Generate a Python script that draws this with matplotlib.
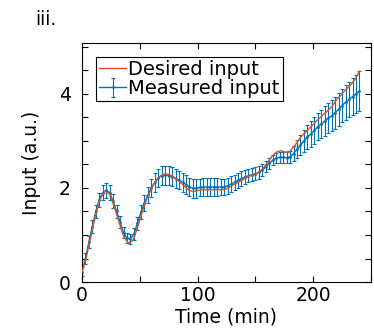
import numpy as np
import matplotlib
matplotlib.use("Agg")
import matplotlib.pyplot as plt
from matplotlib.ticker import MultipleLocator

# measured samples every 3 min, desired trajectory every 4 min
time_meas = np.arange(0, 241, 3)
time_des = np.arange(0, 241, 4)

measured = [0.22, 0.50, 0.85, 1.18, 1.50, 1.75, 1.90, 1.95, 1.90, 1.72,
            1.50, 1.27, 1.05, 0.93, 0.92, 1.02, 1.25, 1.48, 1.68, 1.85,
            2.00, 2.12, 2.21, 2.26, 2.27, 2.26, 2.24, 2.20, 2.17, 2.12,
            2.07, 2.02, 1.99, 1.99, 2.01, 2.02, 2.02, 2.02, 2.02, 2.02,
            2.02, 2.02, 2.05, 2.08, 2.12, 2.16, 2.20, 2.23, 2.26, 2.28,
            2.30, 2.33, 2.38, 2.45, 2.52, 2.59, 2.63, 2.65, 2.65, 2.64,
            2.66, 2.73, 2.82, 2.91, 3.00, 3.08, 3.15, 3.22, 3.30, 3.36,
            3.42, 3.48, 3.53, 3.60, 3.67, 3.75, 3.82, 3.88, 3.94, 4.00,
            4.06]

measured_err = [0.10, 0.11, 0.12, 0.13, 0.14, 0.15, 0.16, 0.16, 0.16,
                0.15, 0.14, 0.13, 0.12, 0.11, 0.11, 0.12,
                0.14, 0.15, 0.17, 0.18, 0.19, 0.20, 0.20, 0.20, 0.20,
                0.20, 0.20, 0.20, 0.20, 0.20, 0.20, 0.20, 0.20, 0.20,
                0.19, 0.19, 0.19, 0.19, 0.19, 0.19, 0.18, 0.18, 0.17,
                0.17, 0.16, 0.16, 0.15, 0.15, 0.14, 0.14, 0.14, 0.13,
                0.13, 0.12, 0.12, 0.11, 0.11, 0.11, 0.12, 0.12, 0.13,
                0.16, 0.19, 0.22, 0.24, 0.26, 0.27, 0.28, 0.29, 0.30,
                0.31, 0.32, 0.33, 0.34, 0.35, 0.36, 0.37, 0.38, 0.39, 0.40,
                0.42]

desired = [0.20, 0.55, 1.00, 1.45, 1.78, 1.93, 1.87, 1.60, 1.28, 0.97,
           0.83, 0.88, 1.15, 1.48, 1.76, 1.98, 2.15, 2.26, 2.30, 2.28,
           2.22, 2.14, 2.05, 1.96, 1.92, 1.94, 1.96, 1.96, 1.96, 1.96,
           1.96, 1.97, 2.02, 2.08, 2.13, 2.19, 2.24, 2.28, 2.32, 2.40,
           2.52, 2.66, 2.76, 2.79, 2.76, 2.78, 2.90, 3.04, 3.15, 3.25,
           3.35, 3.45, 3.54, 3.63, 3.72, 3.87, 3.97, 4.08, 4.18, 4.30,
           4.48]

plt.rcParams['font.family'] = ['DejaVu Sans']

fig = plt.figure(figsize=(3.74, 3.33), dpi=100)
ax = fig.add_axes([0.219, 0.153, 0.773, 0.718])

ax.plot(time_des, desired, color='#D95319', linewidth=1.0, label='Desired input', zorder=3)
ax.errorbar(time_meas, measured, yerr=measured_err, color='#0072BD', linewidth=1.0,
            elinewidth=0.8, capsize=1.2, capthick=0.8, marker='.', markersize=2,
            label='Measured input', zorder=2)

ax.set_xlim(0, 250)
ax.set_ylim(0, 5.08)
ax.xaxis.set_major_locator(MultipleLocator(100))
ax.xaxis.set_minor_locator(MultipleLocator(50))
ax.yaxis.set_major_locator(MultipleLocator(2))
ax.yaxis.set_minor_locator(MultipleLocator(0.5))
ax.tick_params(which='both', direction='in', top=True, right=True, length=4, width=0.8)
ax.tick_params(axis='x', labelsize=13.5, pad=3)
ax.tick_params(axis='y', labelsize=13.5, pad=8)

ax.set_xlabel('Time (min)', fontsize=13.5, labelpad=2)
ax.set_ylabel('Input (a.u.)', fontsize=13.5, labelpad=13)

leg = ax.legend(loc='upper left', bbox_to_anchor=(0.05, 0.94), fontsize=14,
                fancybox=False, framealpha=1, edgecolor='black',
                handlelength=1.4, handletextpad=0.1, labelspacing=0.0,
                borderpad=0.15, borderaxespad=0)
leg.get_frame().set_linewidth(0.8)

fig.text(0.095, 0.925, 'iii.', fontsize=13.5)

fig.savefig('out.png', dpi=100)
